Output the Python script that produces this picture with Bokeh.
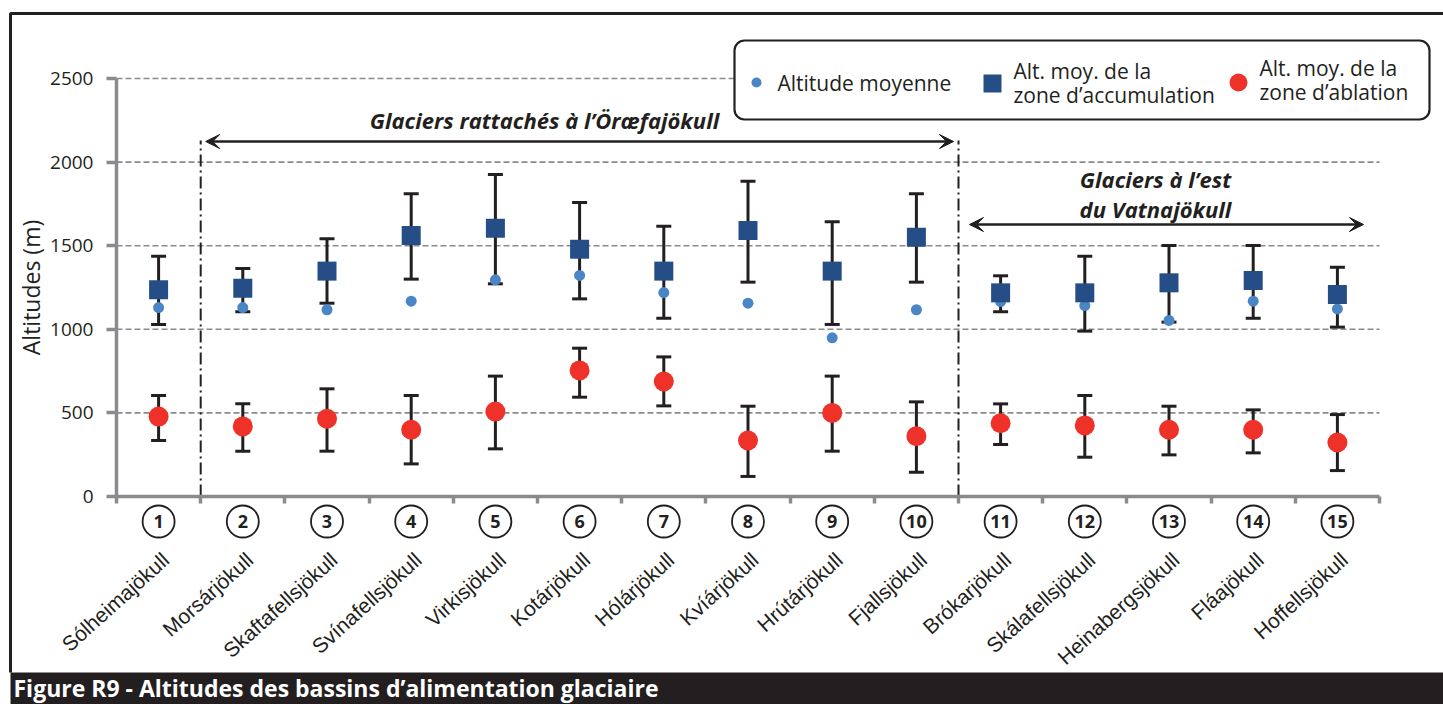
from bokeh.plotting import figure
from bokeh.models import Range1d, FixedTicker, BoxAnnotation, Arrow, VeeHead
from bokeh.core.properties import value
from bokeh.embed import file_html
from bokeh.resources import INLINE

# ---------------- data ----------------
glaciers = ["Sólheimajökull", "Morsárjökull", "Skaftafellsjökull", "Svínafellsjökull",
            "Virkisjökull", "Kotárjökull", "Hólárjökull", "Kvíárjökull", "Hrútárjökull",
            "Fjallsjökull", "Brókarjökull", "Skálafellsjökull", "Heinabergsjökull",
            "Fláajökull", "Hoffellsjökull"]
numeros = [str(i) for i in range(1, 16)]
alt_moyenne = [1130, 1130, 1117, 1168, 1296, 1322, 1220, 1156, 949, 1117, 1166, 1142, 1053, 1168, 1122]
acc_moy = [1236, 1246, 1348, 1561, 1605, 1479, 1348, 1591, 1348, 1551, 1218, 1218, 1278, 1292, 1208]
acc_haut = [1437, 1364, 1541, 1810, 1926, 1758, 1617, 1886, 1643, 1810, 1320, 1437, 1501, 1501, 1371]
acc_bas = [1029, 1105, 1156, 1300, 1272, 1182, 1066, 1282, 1029, 1282, 1105, 989, 1043, 1066, 1013]
abl_moy = [478, 419, 465, 399, 508, 754, 688, 335, 500, 361, 438, 425, 399, 399, 323]
abl_haut = [604, 554, 644, 604, 720, 887, 835, 540, 720, 566, 554, 604, 540, 518, 490]
abl_bas = [335, 271, 271, 195, 285, 594, 542, 120, 271, 145, 311, 235, 249, 261, 155]
y_ticks = [0, 500, 1000, 1500, 2000, 2500]
group_limits = [1.5, 10.5]
legend_labels = ["Altitude moyenne", "Alt. moy. de la", "zone d’accumulation",
                 "Alt. moy. de la", "zone d’ablation"]
group_titles = ["Glaciers rattachés à l’Öræfajökull", "Glaciers à l’est", "du Vatnajökull"]
fig_title = "Figure R9 -  Altitudes des bassins d’alimentation glaciaire"

# ---------------- layout (page pixels) ----------------
W, H = 1443, 704
AX_L, AX_R = 116, 1379
AX_B, AX_T = 496, 78
n = len(glaciers)
ppx = (AX_R - AX_L) / n
ppy = (AX_B - AX_T) / y_ticks[-1]


def X(px):
    return 0.5 + (px - AX_L) / ppx


def Y(py):
    return (AX_B - py) / ppy


BLACK = "#231f20"
GRAY = "#8a8b8e"
C_MEAN = "#4a85c6"
C_ACC = "#254e87"
C_ABL = "#ee3129"
FONT = value("Open Sans")

p = figure(width=W, height=H, x_range=Range1d(X(0), X(W)),
           y_range=Range1d(Y(H), Y(0)), output_backend="svg",
           toolbar_location=None, title=None, min_border=0,
           outline_line_color=None, background_fill_color="white",
           border_fill_color="white")
p.min_border_left = p.min_border_right = p.min_border_top = p.min_border_bottom = 0
p.xgrid.visible = False
p.ygrid.visible = False

# y axis
ya = p.yaxis[0]
ya.fixed_location = 0.5
ya.bounds = (y_ticks[0], y_ticks[-1])
ya.ticker = FixedTicker(ticks=y_ticks)
ya.minor_tick_line_color = None
ya.major_tick_out = 10
ya.major_tick_in = 0
ya.major_tick_line_width = 3.5
ya.major_tick_line_color = GRAY
ya.axis_line_width = 3.5
ya.axis_line_color = GRAY
ya.major_label_text_font = "Open Sans"
ya.major_label_text_font_size = "19px"
ya.major_label_text_color = BLACK
ya.major_label_standoff = 13
ya.axis_label = "Altitudes (m)"
ya.axis_label_text_font = "Open Sans"
ya.axis_label_text_font_style = "normal"
ya.axis_label_text_font_size = "23px"
ya.axis_label_text_color = BLACK
ya.axis_label_standoff = 0

# x axis (tick marks at category boundaries, no labels)
xa = p.xaxis[0]
xa.fixed_location = 0
xa.bounds = (0.5, n + 0.5)
xa.ticker = FixedTicker(ticks=[], minor_ticks=[i + 0.5 for i in range(n + 1)])
xa.major_tick_line_color = None
xa.minor_tick_out = 7
xa.minor_tick_in = 0
xa.minor_tick_line_width = 3.5
xa.minor_tick_line_color = GRAY
xa.axis_line_width = 3.5
xa.axis_line_color = GRAY

xs = list(range(1, n + 1))

# grid lines
gy = y_ticks[1:]
p.segment(x0=[0.5] * len(gy), x1=[n + 0.5] * len(gy), y0=gy, y1=gy,
          line_color=GRAY, line_width=1.6, line_dash="6 3", level="underlay")

# group dividers
p.segment(x0=group_limits, x1=group_limits, y0=[0, 0], y1=[Y(140), Y(140)],
          line_color=BLACK, line_width=2, line_dash="12 4 2 4")

# error bars
cap = 7.5 / ppx
for lo, hi in ((acc_bas, acc_haut), (abl_bas, abl_haut)):
    p.segment(x0=xs, x1=xs, y0=lo, y1=hi, line_color=BLACK, line_width=3)
    p.segment(x0=[x - cap for x in xs], x1=[x + cap for x in xs], y0=hi, y1=hi,
              line_color=BLACK, line_width=3)
    p.segment(x0=[x - cap for x in xs], x1=[x + cap for x in xs], y0=lo, y1=lo,
              line_color=BLACK, line_width=3)

# markers
p.scatter(xs, alt_moyenne, marker="circle", size=11, fill_color=C_MEAN, line_color=None)
p.scatter(xs, acc_moy, marker="square", size=19, fill_color=C_ACC, line_color=None)
p.scatter(xs, abl_moy, marker="circle", size=20, fill_color=C_ABL, line_color=None)

# circled numbers and names under the axis
p.scatter(xs, [Y(521)] * n, marker="circle", size=32, fill_color=None,
          line_color=BLACK, line_width=1.8)
p.text(xs, [Y(521)] * n, text=numeros, text_align="center", text_baseline="middle",
       text_font=FONT, text_font_style="bold", text_font_size="18px", text_color=BLACK)
p.text([x + 7 / ppx for x in xs], [Y(556)] * n, text=glaciers, angle=42, angle_units="deg",
       text_align="right", text_baseline="middle", text_font=value("Liberation Sans"),
       text_font_size="21px", text_color=BLACK)

# arrows + group titles
head = dict(size=14, fill_color=BLACK, line_color=BLACK, line_width=1)
p.add_layout(Arrow(start=VeeHead(**head), end=VeeHead(**head),
                   x_start=group_limits[0] + 5 / ppx, x_end=group_limits[1] - 5 / ppx,
                   y_start=Y(141), y_end=Y(141), line_color=BLACK, line_width=2.5))
p.add_layout(Arrow(start=VeeHead(**head), end=VeeHead(**head),
                   x_start=group_limits[1] + 11 / ppx, x_end=n + 0.5 - 16 / ppx,
                   y_start=Y(224), y_end=Y(224), line_color=BLACK, line_width=2.5))
p.text([X(544), X(1155), X(1155)], [Y(119), Y(178), Y(208)], text=group_titles,
       text_align="center", text_baseline="middle", text_font=FONT,
       text_font_style="bold italic", text_font_size="22px", text_color=BLACK)

# legend box
p.add_layout(BoxAnnotation(left=X(734), right=X(1429), top=Y(40), bottom=Y(119),
                           fill_color="white", fill_alpha=1, line_color=BLACK,
                           line_alpha=1, line_width=2.2, border_radius=10))
p.scatter([X(756)], [Y(82)], marker="circle", size=10, fill_color=C_MEAN,
          line_color=None, level="overlay")
p.scatter([X(992)], [Y(83)], marker="square", size=18, fill_color=C_ACC,
          line_color=None, level="overlay")
p.scatter([X(1238)], [Y(82)], marker="circle", size=18, fill_color=C_ABL,
          line_color=None, level="overlay")
p.text([X(777), X(1013), X(1013), X(1259), X(1259)],
       [Y(82), Y(70), Y(94), Y(67), Y(91)], text=legend_labels,
       text_align="left", text_baseline="middle", text_font=FONT,
       text_font_size="21px", text_color=BLACK, level="overlay")

# outer frame + caption band
p.line([X(10), X(10), X(W)], [Y(672), Y(13), Y(13)], line_color=BLACK, line_width=3)
p.quad(left=[X(10)], right=[X(W)], top=[Y(672)], bottom=[Y(H)],
       fill_color=BLACK, line_color=None)
p.text([X(13)], [Y(687)], text=[fig_title], text_align="left", text_baseline="middle",
       text_font=FONT, text_font_style="bold", text_font_size="23px", text_color="white")

open("out.html", "w").write(file_html(p, INLINE))
